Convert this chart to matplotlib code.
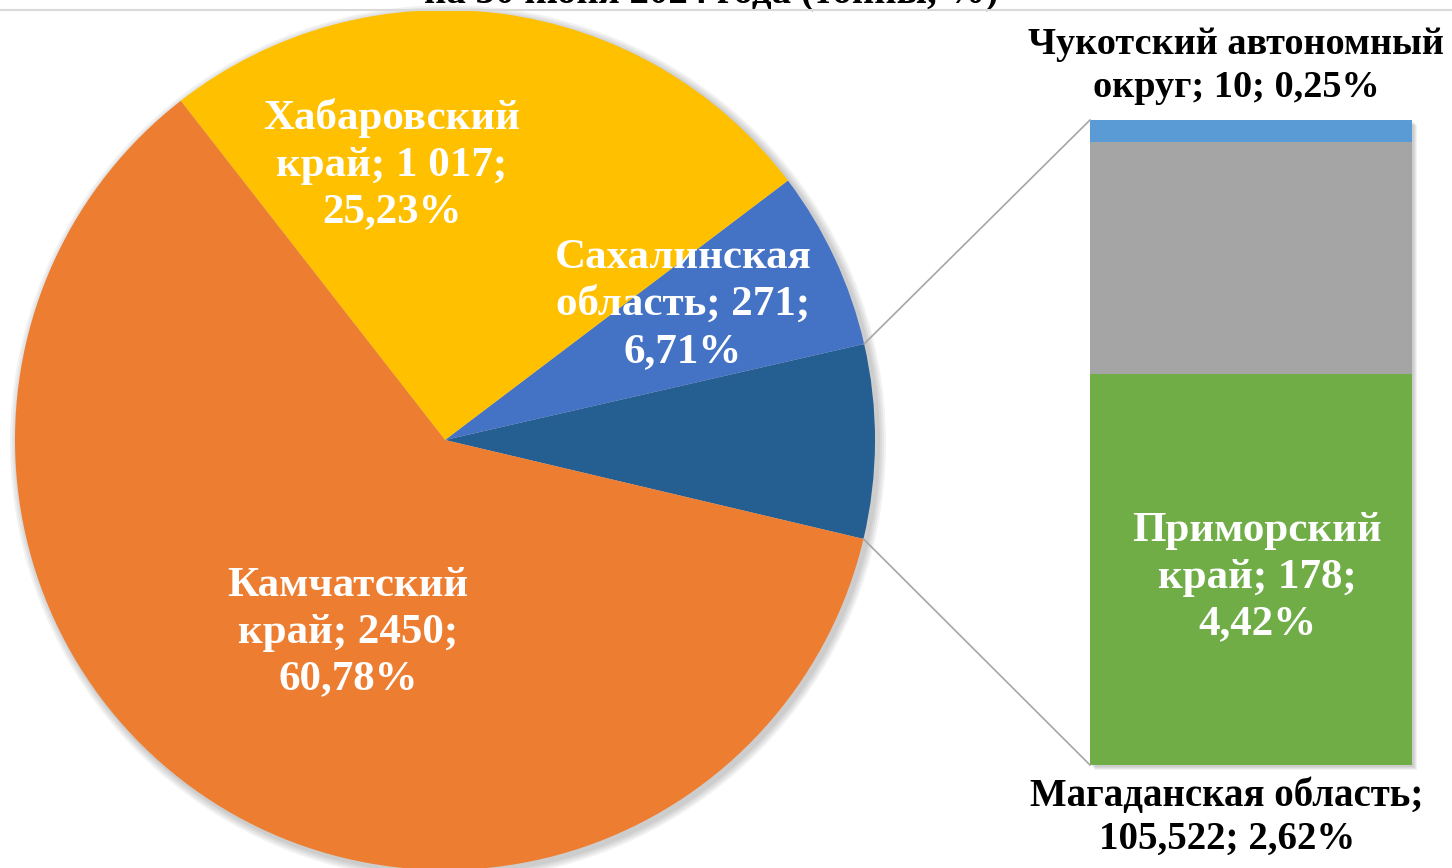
import numpy as np
import matplotlib.pyplot as plt
from matplotlib.patches import Circle, Rectangle
from matplotlib.lines import Line2D

plt.rcParams['font.family'] = ['Liberation Serif', 'DejaVu Serif']
plt.rcParams['font.weight'] = 'bold'

# данные
pie_names = ['Прочие', 'Сахалинская\nобласть; 271;\n6,71%', 'Хабаровский\nкрай; 1 017;\n25,23%',
             'Камчатский\nкрай; 2450;\n60,78%']
bar_names = ['Приморский\nкрай; 178;\n4,42%', 'Магаданская область;\n105,522; 2,62%',
             'Чукотский автономный\nокруг; 10; 0,25%']
bar_values = [178, 105.522, 10]
pie_values = [sum(bar_values), 271, 1017, 2450]

pie_colors = ['#255E91', '#4472C4', '#FFC000', '#ED7D31']
bar_colors = ['#70AD47', '#A5A5A5', '#5B9BD5']

W, H = 1452, 868
fig = plt.figure(figsize=(W / 100, H / 100), dpi=100)
ax = fig.add_axes([0, 0, 1, 1])

cx, cy, r = 445, H - 440, 430

# мягкая тень
for i in range(4):
    ax.add_patch(Circle((cx + 3, cy - 3), r + 2 + 2 * i, color='k', alpha=0.05, lw=0, zorder=0))

wedges, _ = ax.pie(pie_values, colors=pie_colors, startangle=-13.3, center=(cx, cy), radius=r,
                   counterclock=True, wedgeprops=dict(linewidth=0), frame=True)
ax.set_xlim(0, W)
ax.set_ylim(0, H)
ax.set_aspect('equal')
ax.axis('off')

# столбик
bx, bw = 1090, 322
bar_bottom = H - 765
bar_total = 645
heights = [v / sum(bar_values) * bar_total for v in bar_values]
for j in range(4):
    ax.add_patch(Rectangle((bx + 2 + j, bar_bottom - 2 - j), bw, bar_total, color='k', alpha=0.05, lw=0, zorder=1))
bottom = bar_bottom
for h, c in zip(heights, bar_colors):
    ax.bar(bx + bw / 2, h, width=bw, bottom=bottom, color=c, lw=0, zorder=2)
    bottom += h

# соединительные линии
w0 = wedges[0]
for ang, yb in [(w0.theta2, bar_bottom + bar_total), (w0.theta1, bar_bottom)]:
    px = cx + r * np.cos(np.radians(ang))
    py = cy + r * np.sin(np.radians(ang))
    ax.add_line(Line2D([px, bx], [py, yb], color='#A6A6A6', lw=1.2, zorder=3))

fs = 31
ls = 1.3
ax.text(392, H - 165, pie_names[2], color='white', fontsize=fs, ha='center', va='center', linespacing=ls)
ax.text(683, H - 305, pie_names[1], color='white', fontsize=fs, ha='center', va='center', linespacing=ls)
ax.text(348, H - 633, pie_names[3], color='white', fontsize=fs, ha='center', va='center', linespacing=ls)
ax.text(1257, H - 578, bar_names[0], color='white', fontsize=fs, ha='center', va='center', linespacing=ls)
ax.text(1236, H - 66, bar_names[2], color='black', fontsize=27.5, ha='center', va='center', linespacing=1.3)
ax.text(1227, H - 818, bar_names[1], color='black', fontsize=28, ha='center', va='center', linespacing=1.18)

# заголовок (обрезан сверху, как в оригинале)
ax.text(711, H - 3, 'на 30 июня 2024 года (тонны, %)', color='black', fontsize=28,
        ha='center', va='baseline', clip_on=False)
fig.add_artist(Line2D([0, 1], [1 - 10 / H, 1 - 10 / H], color='#D9D9D9', lw=1.5))

fig.savefig('out.png', dpi=100, facecolor='white')
